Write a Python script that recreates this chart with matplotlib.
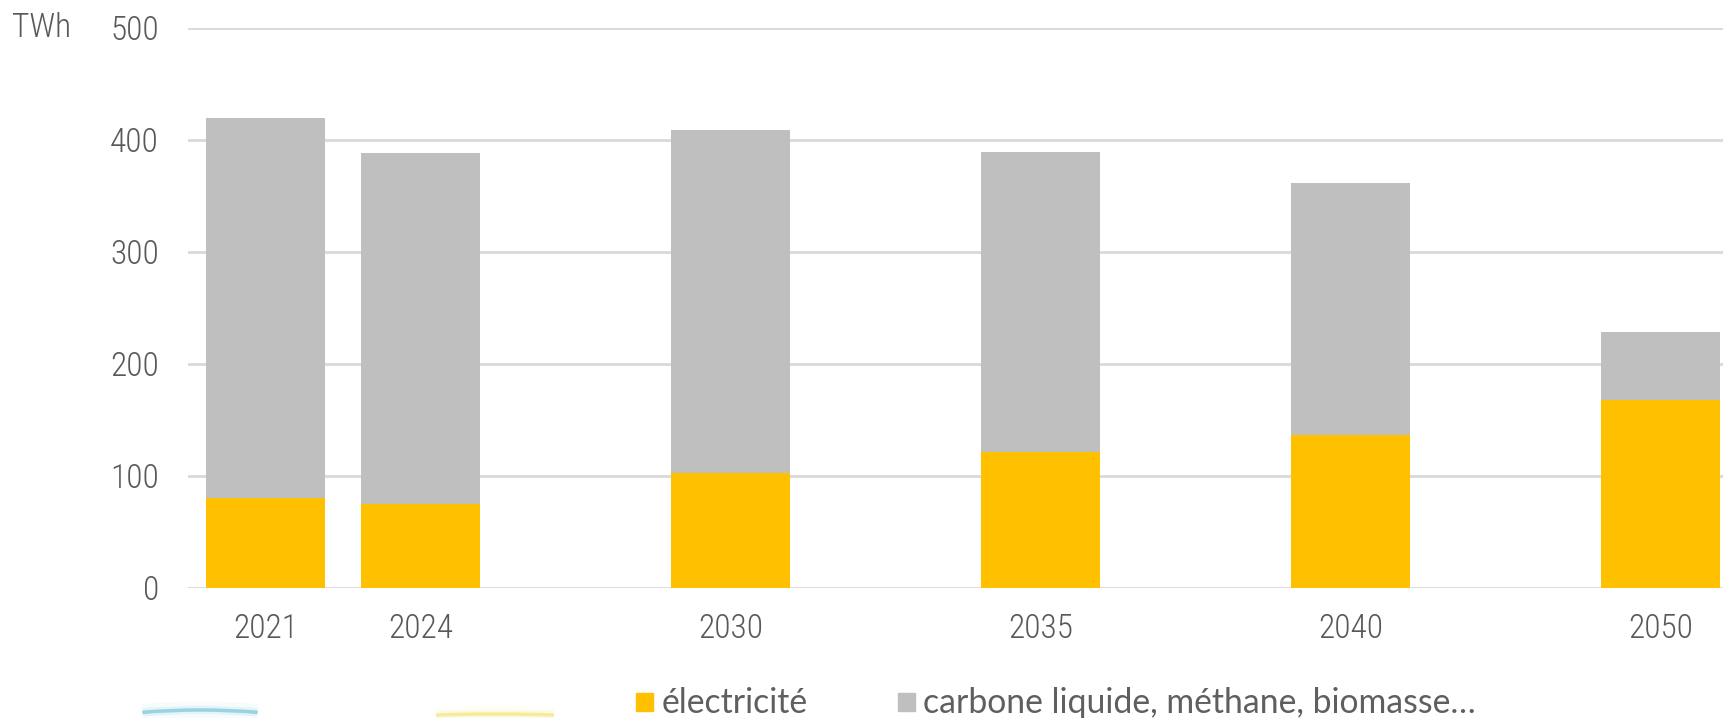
import matplotlib
matplotlib.use("Agg")
import matplotlib.pyplot as plt
from matplotlib.patches import Arc
from matplotlib.transforms import IdentityTransform

# data (TWh)
years = ['2021', '2024', '2030', '2035', '2040', '2050']
slots = [0, 1, 3, 5, 7, 9]          # category slots, empty ones between
electricite = [80, 75, 103, 121, 137, 168]
autres = [340, 313, 306, 268, 225, 61]   # carbone liquide, methane, biomasse...

yellow = '#FFC000'
grey = '#BFBFBF'
txt = '#595959'

plt.rcParams['font.family'] = ['Roboto Condensed', 'DejaVu Sans']
plt.rcParams['font.weight'] = 'light'
leg_font = ['Lato', 'DejaVu Sans']

fig = plt.figure(figsize=(17.24, 7.18), dpi=100)
ax = fig.add_axes([188/1724, 1 - 588/718, 1 - 188/1724, 560/718])

ax.bar(slots, electricite, width=0.77, color=yellow, linewidth=0, zorder=3)
ax.bar(slots, autres, width=0.77, bottom=electricite, color=grey, linewidth=0, zorder=3)

ax.set_xlim(-0.5, 9.41)
ax.set_ylim(0, 500)
ax.set_yticks([0, 100, 200, 300, 400, 500])
ax.set_xticks(slots)
ax.set_xticklabels(years)
ax.tick_params(axis='both', length=0, labelsize=24, labelcolor=txt)
ax.tick_params(axis='y', pad=21)
ax.tick_params(axis='x', pad=18)
ax.grid(axis='y', color='#D9D9D9', linewidth=2, zorder=0)
for s in ax.spines.values():
    s.set_visible(False)

fig.text(12/1724, 1 - 28/718, 'TWh', fontsize=24, color=txt, va='center', ha='left')

# legend drawn by hand
fig.patches.append(plt.Rectangle((636/1724, 1 - 711/718), 17/1724, 18/718,
                                 transform=fig.transFigure, color=yellow))
fig.text(662/1724, 1 - 713/718, 'électricité', fontsize=24.3, color='#5f5f5f',
         va='baseline', family=leg_font, weight='normal')
fig.patches.append(plt.Rectangle((898/1724, 1 - 711/718), 17/1724, 18/718,
                                 transform=fig.transFigure, color=grey))
fig.text(923/1724, 1 - 713/718, 'carbone liquide, méthane, biomasse…',
         fontsize=24.3, color='#5f5f5f', va='baseline', family=leg_font, weight='normal')

# faint decorative arcs along the bottom edge (pixel coords)
for cx, w, cy, col in [(200, 412, -52, '#4FB3CC'), (495, 634, -56, '#F2DE55')]:
    for lw, a in [(12, 0.05), (6, 0.10), (2.5, 0.5)]:
        arc = Arc((cx, cy), w, 120, theta1=45, theta2=135, color=col,
                  linewidth=lw, alpha=a, transform=IdentityTransform())
        fig.patches.append(arc)

fig.savefig('out.png', dpi=100, facecolor='white')
